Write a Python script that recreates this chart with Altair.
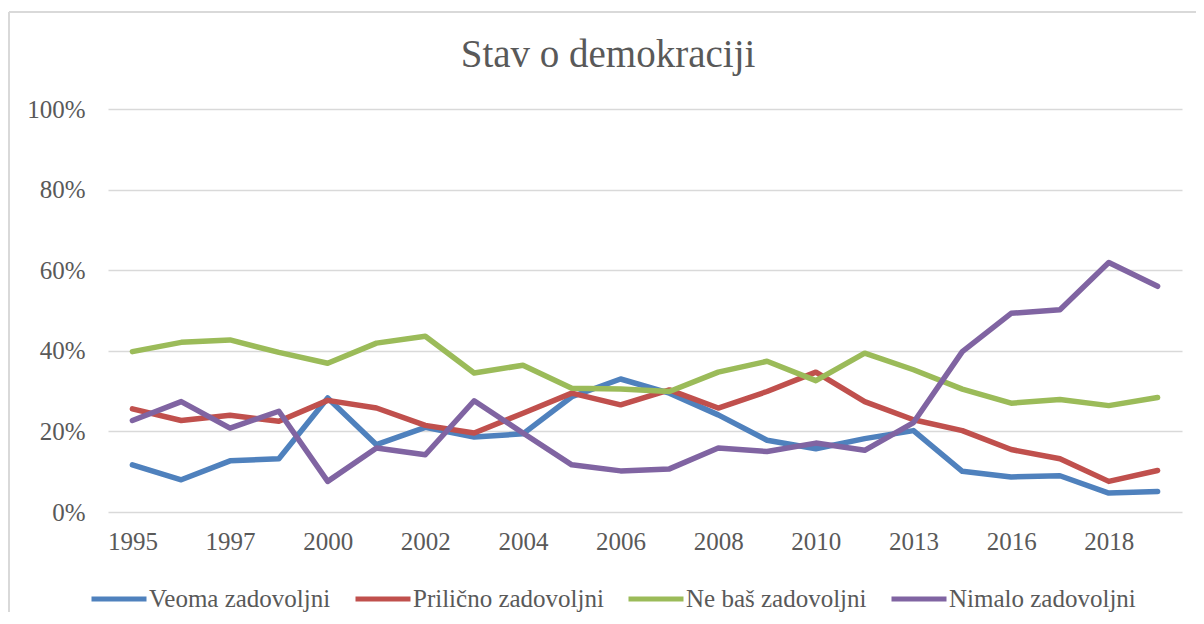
import altair as alt
import pandas as pd

years = ["1995", "1996", "1997", "1998", "2000", "2001", "2002", "2003", "2004", "2005", "2006",
         "2007", "2008", "2009", "2010", "2011", "2013", "2015", "2016", "2017", "2018", "2020"]
label_years = ["1995", "1997", "2000", "2002", "2004", "2006", "2008", "2010", "2013", "2016", "2018"]

series_names = ["Veoma zadovoljni", "Prilično zadovoljni", "Ne baš zadovoljni", "Nimalo zadovoljni"]
colors = ["#4F81BD", "#C0504D", "#9BBB59", "#8064A2"]

veoma = [11.7, 8.0, 12.7, 13.2, 28.3, 16.7, 21.0, 18.6, 19.4, 28.6, 33.0,
         29.5, 24.1, 17.8, 15.7, 18.2, 20.2, 10.1, 8.7, 9.0, 4.7, 5.1]
prilicno = [25.6, 22.7, 24.0, 22.5, 27.7, 25.8, 21.5, 19.6, 24.5, 29.5, 26.6,
            30.3, 25.8, 29.9, 34.7, 27.4, 22.9, 20.2, 15.5, 13.2, 7.6, 10.3]
ne_bas = [39.8, 42.1, 42.7, 39.6, 36.9, 41.9, 43.6, 34.5, 36.4, 30.7, 30.5,
          29.9, 34.7, 37.4, 32.6, 39.4, 35.3, 30.5, 27.0, 27.9, 26.4, 28.4]
nimalo = [22.7, 27.4, 20.8, 25.0, 7.6, 15.9, 14.2, 27.6, 19.6, 11.7, 10.2,
          10.7, 15.9, 15.0, 17.1, 15.3, 22.2, 39.8, 49.3, 50.2, 61.9, 56.0]

rows = []
for name, vals in zip(series_names, [veoma, prilicno, ne_bas, nimalo]):
    for y, v in zip(years, vals):
        rows.append({"year": y, "series": name, "value": v})
df = pd.DataFrame(rows)

FONT = "Liberation Serif"
TXT = "#595959"

lines = alt.Chart(df).mark_line(strokeWidth=5.5, strokeCap="round", strokeJoin="round").encode(
    x=alt.X("year:O", sort=years,
            scale=alt.Scale(type="point", padding=0.5),
            axis=alt.Axis(values=label_years, title=None, labelAngle=0, ticks=False,
                          domain=False, grid=False, labelPadding=17, labelFontSize=25,
                          labelFont=FONT, labelColor=TXT)),
    y=alt.Y("value:Q", scale=alt.Scale(domain=[0, 100]),
            axis=alt.Axis(values=[0, 20, 40, 60, 80, 100], labelExpr="datum.value + '%'",
                          title=None, ticks=False, domain=False, gridColor="#D9D9D9",
                          gridWidth=1.5, labelPadding=23, labelFontSize=25,
                          labelFont=FONT, labelColor=TXT)),
    color=alt.Color("series:N", sort=series_names,
                    scale=alt.Scale(domain=series_names, range=colors),
                    legend=alt.Legend(orient="none", legendX=-19, legendY=460,
                                      direction="horizontal", title=None,
                                      symbolType="stroke", symbolSize=3025,
                                      symbolStrokeWidth=5, labelFontSize=25,
                                      labelFont=FONT, labelColor=TXT, labelLimit=0,
                                      columnPadding=14, labelOffset=0)),
)

border_df = pd.DataFrame({"k": [0]})
left_border = alt.Chart(border_df).mark_rule(color="#D9D9D9", strokeWidth=2).encode(
    x=alt.value(-99), y=alt.value(-97), y2=alt.value(520))
top_border = alt.Chart(border_df).mark_rule(color="#D9D9D9", strokeWidth=2).encode(
    x=alt.value(-99), x2=alt.value(1100), y=alt.value(-97))

chart = alt.layer(left_border, top_border, lines).properties(
    width=1074, height=403,
    padding={"left": 100, "top": 101, "right": 14, "bottom": 100},
    autosize=alt.AutoSizeParams(type="none"),
    background="white",
    title=alt.TitleParams("Stav o demokraciji", fontSize=39, font=FONT, color=TXT,
                          fontWeight="normal", anchor="middle", dx=-37,
                          baseline="alphabetic", offset=-95),
).configure_view(strokeWidth=0)

chart.save("out.html", embed_options={"renderer": "svg", "actions": False})
